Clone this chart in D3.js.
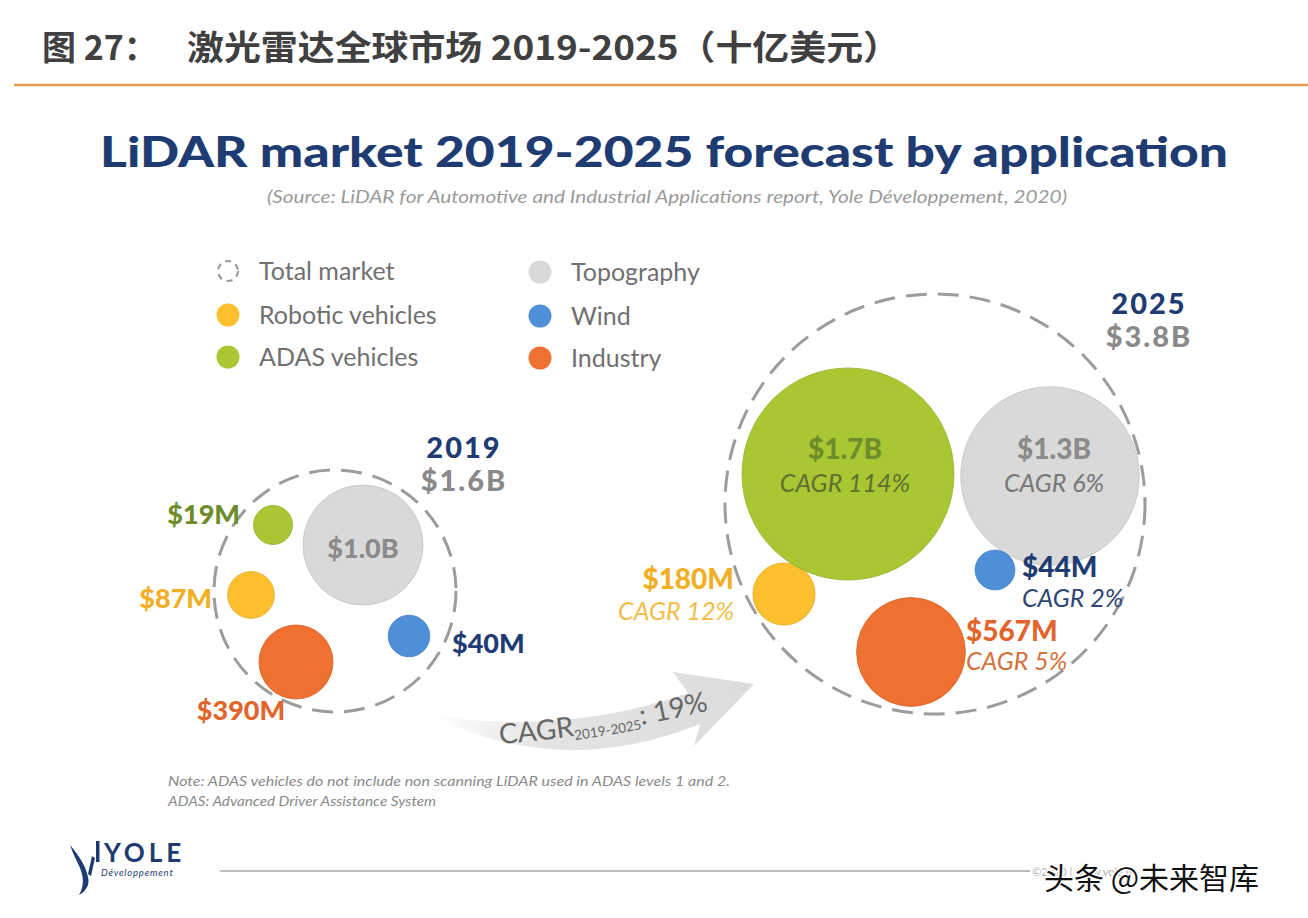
<!DOCTYPE html>
<html><head><meta charset="utf-8">
<script src="https://cdn.jsdelivr.net/npm/d3@7"></script>
<style>html,body{margin:0;padding:0;background:#fff;} svg{display:block;}</style>
</head><body><svg id="c" width="1308" height="918"></svg>
<script>
// ---------------- DATA ----------------
const categories = ["Robotic vehicles", "ADAS vehicles", "Topography", "Wind", "Industry"];
const years = ["2019", "2025"];
const values2019 = [87, 19, 1000, 40, 390];      // $M
const values2025 = [180, 1700, 1300, 44, 567];   // $M
const cagr2025 = [12, 114, 6, 2, 5];             // % 2019-2025
const totals = [1.6, 3.8];                       // $B
const totalCagr = 19;                            // %
const legendItems = ["Total market", "Robotic vehicles", "ADAS vehicles", "Topography", "Wind", "Industry"];

// ---------------- STYLE / LAYOUT ----------------
const LAT = "Lato, 'Open Sans', sans-serif";
const CJK = "'Noto Sans CJK SC', sans-serif";
const NAVY = "#1f3c72";
const color = d3.scaleOrdinal().domain(categories)
  .range(["#fcbf2d", "#a8c733", "#d9d9d9", "#4f8fd8", "#ee7131"]);
const valueColor = d3.scaleOrdinal().domain(categories)
  .range(["#f2ae25", "#6f8c2b", "#8a8a8a", NAVY, "#e2652b"]);
const cagrColor = d3.scaleOrdinal().domain(categories)
  .range(["#f3bd4a", "#5f6f30", "#777777", "#2e4574", "#d4703c"]);

const layout = {
  "2019": {cx: 335, cy: 591, R: 121, r0: 18, maxR: 60, exp: 0.84, head: {x: 464, y1: 458, y2: 491}, fs: 27,
    bubbles: [[-84, 4], [-62, -66], [28, -46], [74, 45], [-39, 71]],
    labels: [{a: "end", dx: -39, dy: 3}, {a: "end", dx: -33, dy: -11}, {a: "middle", dx: 0, dy: 3},
             {a: "start", dx: 43, dy: 7}, {a: "middle", dx: -55, dy: 48}]},
  "2025": {cx: 935, cy: 504, R: 210, r0: 14, maxR: 106, exp: 0.75, head: {x: 1149, y1: 314, y2: 347}, fs: 28,
    bubbles: [[-151, 90], [-87, -30], [115, -28], [60, 66], [-24, 148]],
    labels: [{a: "end", dx: -50, dy: -15, dy2: 17}, {a: "middle", dx: -3, dy: -25, dy2: 9},
             {a: "middle", dx: 4, dy: -27, dy2: 7}, {a: "start", dx: 27, dy: -3, dy2: 28},
             {a: "start", dx: 55, dy: -21, dy2: 9}]}
};

const svg = d3.select("#c");
svg.append("rect").attr("width", 1308).attr("height", 918).attr("fill", "#fff");

// ---------------- HEADER ----------------
svg.append("text").attr("x", 42).attr("y", 60).attr("font-family", CJK).attr("font-weight", 700)
  .attr("font-size", 34).attr("fill", "#404040").text("图 27：");
svg.append("text").attr("x", 187).attr("y", 60).attr("font-family", CJK).attr("font-weight", 700)
  .attr("font-size", 34).attr("fill", "#404040").attr("textLength", 713).attr("lengthAdjust", "spacingAndGlyphs")
  .text("激光雷达全球市场 2019-2025（十亿美元）");
svg.append("line").attr("x1", 14).attr("x2", 1308).attr("y1", 85).attr("y2", 85)
  .attr("stroke", "#ee9a4e").attr("stroke-width", 2.5);

svg.append("text").attr("x", 100).attr("y", 167).attr("font-family", LAT).attr("font-weight", 900)
  .attr("font-size", 42).attr("fill", NAVY).attr("textLength", 1128).attr("lengthAdjust", "spacingAndGlyphs")
  .text("LiDAR market 2019-2025 forecast by application");
svg.append("text").attr("x", 267).attr("y", 203).attr("font-family", LAT).attr("font-style", "italic")
  .attr("font-size", 17).attr("fill", "#9a9a9a").attr("textLength", 800).attr("lengthAdjust", "spacingAndGlyphs")
  .text("(Source: LiDAR for Automotive and Industrial Applications report, Yole Développement, 2020)");

// ---------------- LEGEND ----------------
const legendPos = [[228, 271], [228, 315], [228, 357], [540, 272], [540, 316], [540, 358]];
const lg = svg.append("g");
legendItems.forEach((name, i) => {
  const [x, y] = legendPos[i];
  if (name === "Total market") {
    lg.append("circle").attr("cx", x).attr("cy", y).attr("r", 10).attr("fill", "none")
      .attr("stroke", "#9a9a9a").attr("stroke-width", 2.2).attr("stroke-dasharray", "6 5");
  } else {
    lg.append("circle").attr("cx", x).attr("cy", y).attr("r", 11.5).attr("fill", color(name));
  }
  lg.append("text").attr("x", x + 31).attr("y", y).attr("dy", "0.35em").attr("font-family", LAT)
    .attr("font-size", 25).attr("fill", "#707070").text(name);
});

// ---------------- ARROW ----------------
const defs = svg.append("defs");
const grad = defs.append("linearGradient").attr("id", "ag").attr("x1", "0%").attr("x2", "100%");
grad.append("stop").attr("offset", "0%").attr("stop-color", "#ffffff");
grad.append("stop").attr("offset", "35%").attr("stop-color", "#e4e4e4");
grad.append("stop").attr("offset", "100%").attr("stop-color", "#dcdcdc");
svg.append("path")
  .attr("d", "M433,716 Q570,735 688,693 L673,672 L754,684 L694,746 L700,724 Q560,780 433,716 Z")
  .attr("fill", "url(#ag)");
defs.append("path").attr("id", "tp").attr("d", "M500,744 Q610,736 735,704");
const at = svg.append("text").attr("font-family", LAT).attr("fill", "#666")
  .append("textPath").attr("href", "#tp");
at.append("tspan").attr("font-size", 28).text("CAGR");
at.append("tspan").attr("font-size", 13.5).attr("dy", 4).text(years[0] + "-" + years[1]);
at.append("tspan").attr("font-size", 28).attr("dy", -4).text(": " + totalCagr + "%");

// ---------------- BUBBLE CLUSTERS ----------------
const fmt = v => v >= 1000 ? "$" + (v / 1000).toFixed(1) + "B" : "$" + v + "M";
const seriesValues = [values2019, values2025];

years.forEach((yr, yi) => {
  const L = layout[yr];
  const vals = seriesValues[yi];
  const rad = d3.scalePow().exponent(L.exp).domain([0, d3.max(vals)]).range([L.r0, L.maxR]);
  const g = svg.append("g");
  g.append("circle").attr("cx", L.cx).attr("cy", L.cy).attr("r", L.R).attr("fill", "none")
    .attr("stroke", "#9c9c9c").attr("stroke-width", 3).attr("stroke-dasharray", "21 11");

  const data = categories.map((c, i) => ({c, v: vals[i], i,
    x: L.cx + L.bubbles[i][0], y: L.cy + L.bubbles[i][1]}));
  g.selectAll("circle.b").data(data).join("circle").attr("class", "b")
    .attr("cx", d => d.x).attr("cy", d => d.y).attr("r", d => rad(d.v))
    .attr("fill", d => color(d.c))
    .attr("stroke", d => d3.color(color(d.c)).darker(0.3)).attr("stroke-width", 0.8);

  data.forEach(d => {
    const lb = L.labels[d.i];
    g.append("text").attr("x", d.x + lb.dx).attr("y", d.y + lb.dy).attr("dy", "0.36em")
      .attr("text-anchor", lb.a).attr("font-family", LAT).attr("font-weight", 900)
      .attr("font-size", L.fs).attr("fill", valueColor(d.c)).text(fmt(d.v));
    if (yi === 1) {
      g.append("text").attr("x", d.x + lb.dx).attr("y", d.y + lb.dy2).attr("dy", "0.36em")
        .attr("text-anchor", lb.a).attr("font-family", LAT).attr("font-style", "italic")
        .attr("font-size", 25).attr("fill", cagrColor(d.c)).text("CAGR " + cagr2025[d.i] + "%");
    }
  });

  g.append("text").attr("x", L.head.x).attr("y", L.head.y1).attr("text-anchor", "middle")
    .attr("font-family", LAT).attr("font-weight", 900).attr("font-size", 29).attr("letter-spacing", 2)
    .attr("fill", NAVY).text(yr);
  g.append("text").attr("x", L.head.x).attr("y", L.head.y2).attr("text-anchor", "middle")
    .attr("font-family", LAT).attr("font-weight", 900).attr("font-size", 29).attr("letter-spacing", 2)
    .attr("fill", "#8a8a8a").text("$" + totals[yi].toFixed(1) + "B");
});

// ---------------- NOTES ----------------
svg.append("text").attr("x", 168).attr("y", 786).attr("font-family", LAT).attr("font-style", "italic")
  .attr("font-size", 13).attr("fill", "#8a8a8a").attr("textLength", 562).attr("lengthAdjust", "spacingAndGlyphs")
  .text("Note: ADAS vehicles do not include non scanning LiDAR used in ADAS levels 1 and 2.");
svg.append("text").attr("x", 168).attr("y", 806).attr("font-family", LAT).attr("font-style", "italic")
  .attr("font-size", 13).attr("fill", "#8a8a8a").attr("textLength", 268).attr("lengthAdjust", "spacingAndGlyphs")
  .text("ADAS: Advanced Driver Assistance System");

// ---------------- FOOTER ----------------
const lf = svg.append("g");
lf.append("path").attr("d", "M70,845 C79,856 86,866 88,877 C90,885 86,891 79,895 C84,886 84,878 80,868 C77,861 73,854 70,845 Z")
  .attr("fill", NAVY);
lf.append("path").attr("d", "M88,874 L92,856 L95,858 L91,876 Z").attr("fill", NAVY);
lf.append("rect").attr("x", 96).attr("y", 841).attr("width", 3.5).attr("height", 21).attr("fill", NAVY);
lf.append("text").attr("x", 104).attr("y", 862).attr("font-family", LAT).attr("font-weight", 700)
  .attr("font-size", 26).attr("fill", NAVY).attr("letter-spacing", 4).text("YOLE");
lf.append("text").attr("x", 101).attr("y", 876).attr("font-family", LAT).attr("font-style", "italic")
  .attr("font-size", 9.5).attr("fill", NAVY).attr("letter-spacing", 0.8).text("Développement");
lf.append("line").attr("x1", 220).attr("x2", 1030).attr("y1", 871).attr("y2", 871)
  .attr("stroke", "#bdbdbd").attr("stroke-width", 2);
lf.append("text").attr("x", 1032).attr("y", 876).attr("font-family", LAT).attr("font-size", 11)
  .attr("fill", "#b0b0b0").text("©2020 | www.yole.fr");
lf.append("text").attr("x", 1044).attr("y", 889).attr("font-family", CJK).attr("font-size", 30)
  .attr("fill", "#111").attr("stroke", "#fff").attr("stroke-width", 3).attr("paint-order", "stroke")
  .text("头条 @未来智库");
</script></body></html>
